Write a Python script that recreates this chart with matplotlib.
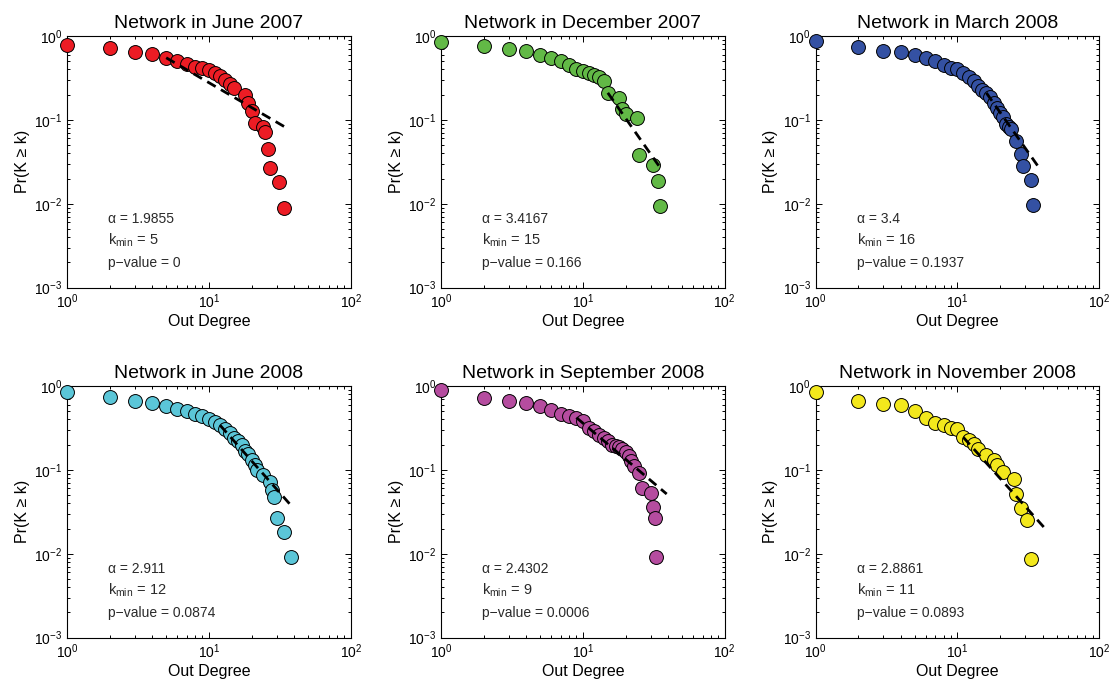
import numpy as np
import matplotlib
matplotlib.use("Agg")
from matplotlib import pyplot as plt

plt.rcParams['font.family'] = ['Liberation Sans', 'DejaVu Sans']
plt.rcParams['mathtext.fontset'] = 'custom'
plt.rcParams['mathtext.rm'] = 'Liberation Sans'
plt.rcParams['mathtext.it'] = 'Liberation Sans:italic'
plt.rcParams['mathtext.bf'] = 'Liberation Sans:bold'

# ---- data ----
titles = ["Network in June 2007", "Network in December 2007", "Network in March 2008",
          "Network in June 2008", "Network in September 2008", "Network in November 2008"]
colors = ["#EC1C24", "#62B946", "#3451A3", "#5BC6D8", "#B54C9F", "#F3E81C"]

alphas = ["1.9855", "3.4167", "3.4", "2.911", "2.4302", "2.8861"]
kmins = [5, 15, 16, 12, 9, 11]
pvals = ["0", "0.166", "0.1937", "0.0874", "0.0006", "0.0893"]
fit_end = [35.6, 34.8, 37, 37, 39, 41]   # where the dashed fit stops

k_jun07 = [1, 2, 3, 4, 5, 6, 7, 8, 9, 10, 11, 12, 13, 14, 15, 18, 19, 20, 21, 24, 25, 26, 27, 31, 34]
p_jun07 = [0.79, 0.72, 0.65, 0.61, 0.55, 0.50, 0.46, 0.43, 0.41, 0.39, 0.36, 0.33, 0.30, 0.27, 0.24,
           0.20, 0.158, 0.128, 0.092, 0.082, 0.072, 0.045, 0.027, 0.018, 0.0089]

k_dec07 = [1, 2, 3, 4, 5, 6, 7, 8, 9, 10, 11, 12, 13, 14, 15, 18, 19, 20, 24, 25, 31, 34, 35]
p_dec07 = [0.84, 0.75, 0.70, 0.66, 0.60, 0.54, 0.50, 0.45, 0.40, 0.38, 0.36, 0.34, 0.32, 0.29, 0.21,
           0.18, 0.134, 0.117, 0.104, 0.038, 0.029, 0.0187, 0.0094]

k_mar08 = [1, 2, 3, 4, 5, 6, 7, 8, 9, 10, 11, 12, 13, 14, 15, 16, 17, 18, 19, 20, 21, 22, 23, 24,
           26, 28, 29, 33, 34]
p_mar08 = [0.88, 0.73, 0.67, 0.65, 0.60, 0.55, 0.50, 0.45, 0.41, 0.40, 0.36, 0.32, 0.29, 0.255, 0.23,
           0.21, 0.185, 0.161, 0.14, 0.122, 0.107, 0.090, 0.083, 0.077, 0.056, 0.039, 0.028, 0.019, 0.0096]

k_jun08 = [1, 2, 3, 4, 5, 6, 7, 8, 9, 10, 11, 12, 13, 14, 15, 16, 17, 18, 19, 20, 21, 22, 24,
           27, 28, 29, 30, 34, 38]
p_jun08 = [0.855, 0.745, 0.67, 0.62, 0.575, 0.535, 0.50, 0.465, 0.436, 0.405, 0.373, 0.34, 0.305,
           0.275, 0.24, 0.219, 0.196, 0.169, 0.156, 0.132, 0.115, 0.10, 0.087, 0.072, 0.058, 0.048,
           0.027, 0.018, 0.0091]

k_sep08 = [1, 2, 3, 4, 5, 6, 7, 8, 9, 10, 11, 12, 13, 14, 15, 16, 17, 18, 19, 20, 21, 22, 23,
           25, 26, 30, 31, 32, 33]
p_sep08 = [0.90, 0.71, 0.67, 0.63, 0.58, 0.52, 0.46, 0.44, 0.42, 0.38, 0.32, 0.29, 0.26, 0.237,
           0.22, 0.20, 0.19, 0.185, 0.178, 0.164, 0.148, 0.127, 0.11, 0.091, 0.061, 0.053, 0.036,
           0.027, 0.0091]

k_nov08 = [1, 2, 3, 4, 5, 6, 7, 8, 9, 10, 11, 12, 13, 14, 16, 18, 19, 21, 25, 26, 28, 31, 33]
p_nov08 = [0.855, 0.67, 0.615, 0.59, 0.50, 0.42, 0.36, 0.34, 0.32, 0.31, 0.245, 0.225, 0.205,
           0.175, 0.15, 0.13, 0.114, 0.094, 0.077, 0.052, 0.035, 0.0255, 0.0086]

degrees = [k_jun07, k_dec07, k_mar08, k_jun08, k_sep08, k_nov08]
probs = [p_jun07, p_dec07, p_mar08, p_jun08, p_sep08, p_nov08]

fig = plt.figure(figsize=(11.12, 6.84), dpi=100)

lefts = [0.0603, 0.3966, 0.7334]
bottoms = [0.5794, 0.0677]
w, h = 0.2551, 0.368

for i in range(6):
    r, c = divmod(i, 3)
    ax = fig.add_axes([lefts[c], bottoms[r], w, h])
    k = np.array(degrees[i], dtype=float)
    p = np.array(probs[i], dtype=float)

    ax.plot(k, p, 'o', ms=10, mfc=colors[i], mec='black', mew=0.7, clip_on=False, zorder=3)

    # power law fit from kmin, slope -(alpha-1)
    a = float(alphas[i])
    km = kmins[i]
    c0 = p[k == km][0]
    xf = np.array([km, fit_end[i]], dtype=float)
    ax.plot(xf, c0 * (xf / km) ** (1 - a), '--', color='black', lw=2,
            dashes=(3.5, 2.2), zorder=4)

    ax.set_xscale('log')
    ax.set_yscale('log')
    ax.set_xlim(1, 100)
    ax.set_ylim(1e-3, 1)
    ax.tick_params(which='both', direction='in', top=True, right=True, labelsize=10, width=0.7)
    ax.tick_params(which='major', length=4)
    ax.tick_params(which='minor', length=2)
    for s in ax.spines.values():
        s.set_linewidth(0.8)

    ax.set_title(titles[i], fontsize=14, pad=6)
    ax.set_xlabel("Out Degree", fontsize=11.5, labelpad=2)
    ax.set_ylabel("Pr(K \u2265 k)", fontsize=11.5, labelpad=3)

    ax.text(0.145, 0.273, "\u03b1 = " + alphas[i], transform=ax.transAxes,
            fontsize=10, va='center', color='#2a2a2a')
    ax.text(0.145, 0.187, "k$_{\\mathregular{min}}$ = %d" % km, transform=ax.transAxes,
            fontsize=10.5, va='center', color='#2a2a2a')
    ax.text(0.145, 0.099, "p\u2212value = " + pvals[i], transform=ax.transAxes,
            fontsize=10, va='center', color='#2a2a2a')

plt.savefig("out.png", dpi=100)
